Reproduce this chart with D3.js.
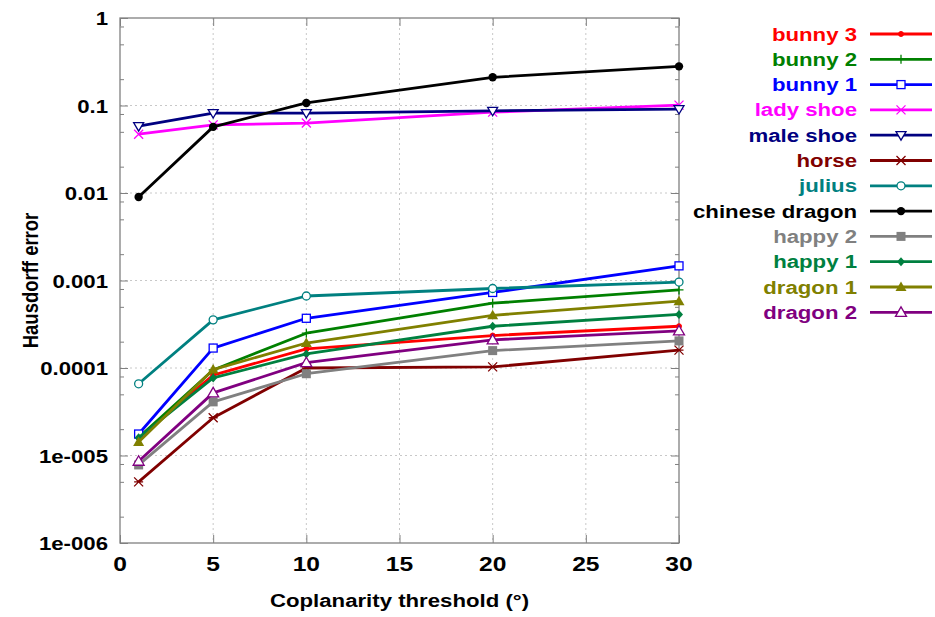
<!DOCTYPE html>
<html><head><meta charset="utf-8">
<script src="https://cdn.jsdelivr.net/npm/d3@7"></script>
<style>body{margin:0;background:#fff}svg{display:block}text{font-family:"Liberation Sans",Arial,sans-serif;font-weight:bold}</style>
</head><body><svg id="c" width="935" height="617"></svg>
<script>
const thresholds = [1, 5, 10, 20, 30];
const seriesNames = ["bunny 3","bunny 2","bunny 1","lady shoe","male shoe","horse","julius","chinese dragon","happy 2","happy 1","dragon 1","dragon 2"];
const seriesColors = ["#ff0000","#008000","#0000ff","#ff00ff","#000080","#800000","#008080","#000000","#808080","#008040","#808000","#800080"];
const seriesMarkers = ["dot","plus","squareOpen","cross","triDownOpen","asterisk","circleOpen","circleFill","squareFill","diamondFill","triFill","triOpen"];
const bunny3 = [1.6e-5, 8.3e-5, 1.65e-4, 2.35e-4, 3.0e-4];
const bunny2 = [1.6e-5, 9.5e-5, 2.5e-4, 5.5e-4, 7.8e-4];
const bunny1 = [1.76e-5, 1.69e-4, 3.7e-4, 7.3e-4, 1.47e-3];
const ladyShoe = [0.047, 0.060, 0.063, 0.084, 0.101];
const maleShoe = [0.058, 0.082, 0.082, 0.087, 0.091];
const horse = [5.0e-6, 2.7e-5, 1.0e-4, 1.03e-4, 1.6e-4];
const julius = [6.6e-5, 3.55e-4, 6.65e-4, 8.1e-4, 9.6e-4];
const chineseDragon = [0.009, 0.057, 0.107, 0.21, 0.28];
const happy2 = [7.8e-6, 4.1e-5, 8.6e-5, 1.58e-4, 2.04e-4];
const happy1 = [1.6e-5, 7.7e-5, 1.45e-4, 3.0e-4, 4.1e-4];
const dragon1 = [1.43e-5, 9.6e-5, 1.93e-4, 4.0e-4, 5.8e-4];
const dragon2 = [8.6e-6, 5.2e-5, 1.15e-4, 2.1e-4, 2.65e-4];
const seriesValues = [bunny3,bunny2,bunny1,ladyShoe,maleShoe,horse,julius,chineseDragon,happy2,happy1,dragon1,dragon2];
const xTicks = [0,5,10,15,20,25,30];
const yTicks = [1,0.1,0.01,0.001,0.0001,1e-5,1e-6];
const yTickLabels = ["1","0.1","0.01","0.001","0.0001","1e-005","1e-006"];
const xTitle = "Coplanarity threshold (°)";
const yTitle = "Hausdorff error";

const svg = d3.select("#c");
const L = 120, R = 679, T = 18, B = 543;
const x = d3.scaleLinear().domain([0,30]).range([L,R]);
const y = d3.scaleLog().domain([1e-6,1]).range([B,T]);
const axisCol = "#808080";
const SX = 1.2;

function stext(parent, px, py, str, size, anchor, color, rot){
  const gg = parent.append("g").attr("transform",`translate(${px},${py}) scale(${SX},1)` + (rot?` rotate(${rot})`:""));
  gg.append("text").attr("x",0).attr("y",0).attr("text-anchor",anchor).attr("font-size",size).attr("fill",color||"#000").text(str);
  return gg;
}

// grid
const g = svg.append("g");
g.selectAll(".gx").data(xTicks.slice(1,-1)).join("line")
  .attr("x1",d=>x(d)).attr("x2",d=>x(d)).attr("y1",T).attr("y2",B)
  .attr("stroke","#c8c8c8").attr("stroke-dasharray","2,3").attr("stroke-width",1);
g.selectAll(".gy").data(yTicks.slice(1,-1)).join("line")
  .attr("y1",d=>y(d)).attr("y2",d=>y(d)).attr("x1",L).attr("x2",R)
  .attr("stroke","#c8c8c8").attr("stroke-dasharray","2,3").attr("stroke-width",1);

// minor y ticks
const minor = [];
for (let e=-6; e<0; e++) for (const m of [2,5,8]) minor.push(m*Math.pow(10,e));
// axes with inward ticks
svg.append("g").attr("transform",`translate(${L},0)`).call(d3.axisLeft(y).tickValues(yTicks).tickFormat("").tickSizeInner(-8).tickSizeOuter(0));
svg.append("g").attr("transform",`translate(0,${B})`).call(d3.axisBottom(x).tickValues(xTicks).tickFormat("").tickSizeInner(-8).tickSizeOuter(0));
svg.append("g").attr("transform",`translate(${R},0)`).call(d3.axisRight(y).tickValues(yTicks).tickFormat("").tickSizeInner(-8).tickSizeOuter(0));
svg.append("g").attr("transform",`translate(0,${T})`).call(d3.axisTop(x).tickValues(xTicks).tickFormat("").tickSizeInner(-8).tickSizeOuter(0));
svg.append("g").attr("transform",`translate(${L},0)`).call(d3.axisLeft(y).tickValues(minor).tickFormat("").tickSizeInner(-4).tickSizeOuter(0));
svg.append("g").attr("transform",`translate(${R},0)`).call(d3.axisRight(y).tickValues(minor).tickFormat("").tickSizeInner(-4).tickSizeOuter(0));
svg.selectAll(".domain").remove();
svg.selectAll(".tick line").attr("stroke",axisCol);
svg.append("rect").attr("x",L).attr("y",T).attr("width",R-L).attr("height",B-T)
  .attr("fill","none").attr("stroke",axisCol).attr("stroke-width",1.3);

// tick labels
const tl = svg.append("g");
yTicks.forEach((v,i)=> stext(tl, 108, y(v)+7, yTickLabels[i], 18.5, "end"));
xTicks.forEach(v=> stext(tl, x(v), 571, String(v), 20.5, "middle"));

// titles
stext(svg, (L+R)/2, 607, xTitle, 18.5, "middle");
stext(svg, 38, (T+B)/2, yTitle, 18.5, "middle", "#000", -90);

function marker(sel, type, color){
  const s = 4.5;
  switch(type){
    case "dot": sel.append("circle").attr("r",2.5).attr("fill",color).attr("stroke",color).attr("stroke-width",1); break;
    case "plus": sel.append("path").attr("d",`M${-s},0H${s}M0,${-s}V${s}`).attr("stroke",color).attr("stroke-width",1.3).attr("fill","none"); break;
    case "squareOpen": sel.append("rect").attr("x",-4).attr("y",-4).attr("width",8).attr("height",8).attr("fill","#fff").attr("stroke",color).attr("stroke-width",1.3); break;
    case "cross": sel.append("path").attr("d",`M${-s},${-s}L${s},${s}M${-s},${s}L${s},${-s}`).attr("stroke",color).attr("stroke-width",1.3).attr("fill","none"); break;
    case "triDownOpen": sel.append("path").attr("d",`M-5,-3.5L5,-3.5L0,5Z`).attr("fill","#fff").attr("stroke",color).attr("stroke-width",1.3); break;
    case "asterisk": sel.append("path").attr("d",`M${-s},${-s}L${s},${s}M${-s},${s}L${s},${-s}M${-s},0H${s}`).attr("stroke",color).attr("stroke-width",1.3).attr("fill","none"); break;
    case "circleOpen": sel.append("circle").attr("r",4).attr("fill","#fff").attr("stroke",color).attr("stroke-width",1.3); break;
    case "circleFill": sel.append("circle").attr("r",4.2).attr("fill",color); break;
    case "squareFill": sel.append("rect").attr("x",-4.5).attr("y",-4.5).attr("width",9).attr("height",9).attr("fill",color); break;
    case "diamondFill": sel.append("path").attr("d","M0,-4.5L4,0L0,4.5L-4,0Z").attr("fill",color); break;
    case "triFill": sel.append("path").attr("d","M-5.5,4L5.5,4L0,-5.5Z").attr("fill",color); break;
    case "triOpen": sel.append("path").attr("d","M-5.5,4L5.5,4L0,-5.5Z").attr("fill","#fff").attr("stroke",color).attr("stroke-width",1.3); break;
  }
}

const line = d3.line().x(d=>x(d[0])).y(d=>y(d[1]));
seriesNames.forEach((name,i)=>{
  const pts = thresholds.map((t,j)=>[t, seriesValues[i][j]]);
  const gs = svg.append("g");
  gs.append("path").attr("d",line(pts)).attr("fill","none").attr("stroke",seriesColors[i]).attr("stroke-width",2.8).attr("stroke-linejoin","round");
  gs.selectAll("g.m").data(pts).join("g").attr("class","m").attr("transform",d=>`translate(${x(d[0])},${y(d[1])})`)
    .each(function(){ marker(d3.select(this), seriesMarkers[i], seriesColors[i]); });
});

// legend
const lg = svg.append("g");
seriesNames.forEach((name,i)=>{
  const yy = 34 + i*25.3;
  stext(lg, 857, yy+6.5, name, 18.5, "end", seriesColors[i]);
  lg.append("line").attr("x1",870).attr("x2",932).attr("y1",yy).attr("y2",yy).attr("stroke",seriesColors[i]).attr("stroke-width",2.8);
  const mg = lg.append("g").attr("transform",`translate(901,${yy})`);
  marker(mg, seriesMarkers[i], seriesColors[i]);
});
</script></body></html>
